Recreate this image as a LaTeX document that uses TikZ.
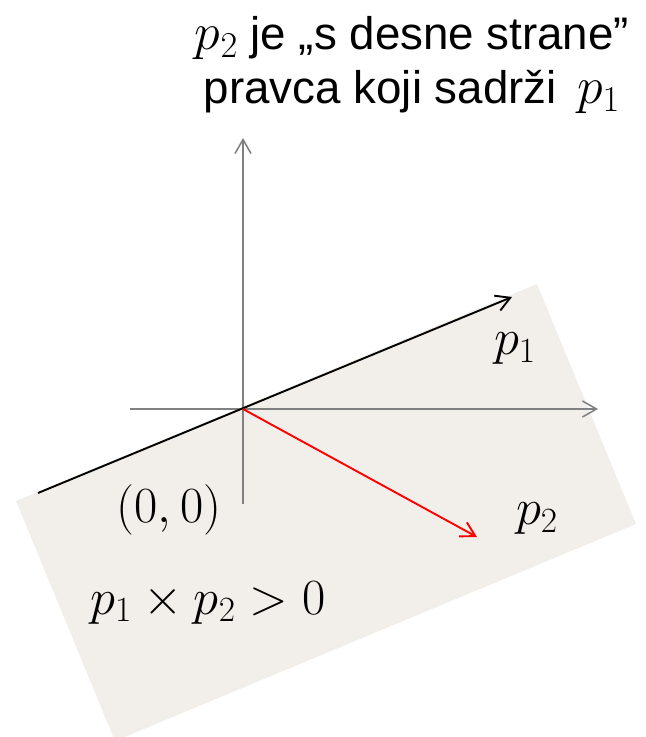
\RequirePackage{fix-cm}
\documentclass[tikz,border=0pt]{standalone}
\usepackage{amsmath}
\usepackage{fontspec}
\newfontfamily\titlefont{Liberation Sans}
\usetikzlibrary{arrows.meta}
\definecolor{halfplane}{HTML}{F2EFEA}
\definecolor{axisgray}{HTML}{808080}
\newcommand{\titlemath}[1]{{\fontsize{37}{38}\selectfont$#1$}}

\begin{document}
\begin{tikzpicture}[
	axis/.style={draw=axisgray, line width=1.1pt, -{Straight Barb[length=0.35cm,width=0.4cm]}},
	vec/.style={line width=1.35pt, -{Straight Barb[length=0.35cm,width=0.4cm]}},
	lbl/.style={font=\fontsize{36}{40}\selectfont, inner sep=0pt}]
			\clip (-6.075,-8.2) rectangle (10.075,10.225);
			% half-plane right of p1
			\fill[halfplane] (-5.675,-2.3) -- (7.35,3.125) -- (9.825,-2.875) -- (-3.2,-8.3) -- cycle;
			% axes
			\coordinate (O) at (0,0);
			\coordinate (xl) at (-2.825,0);
			\coordinate (xr) at (8.875,0);
			\coordinate (yb) at (0,-2.375);
			\coordinate (yt) at (0,6.775);
			\draw[axis] (xl) -- (xr);
			\draw[axis] (yb) -- (yt);
			% vectors
			\coordinate (p1s) at (-5.125,-2.1);
			\coordinate (p1e) at (6.725,2.8);
			\coordinate (p2e) at (5.85,-3.2);
			\draw[vec] (p1s) -- (p1e);
			\draw[vec, red] (O) -- (p2e);
			% labels
			\node[lbl] (lp1) at (6.8,1.5) {$p_1$};
			\node[lbl] (lp2) at (7.35,-2.75) {$p_2$};
			\node[lbl] (lorig) at (-1.85,-2.525) {$(0,0)$};
			\node[lbl] (lcross) at (-0.875,-4.85) {$p_1\times p_2>0$};
			\node[lbl, align=center, font=\titlefont\fontsize{32.5}{38}\selectfont] (title) at (4.225,8.6)
				{\titlemath{p_2} je „s desne strane”\\pravca koji sadrži \,\titlemath{p_1}};
		\end{tikzpicture}
\end{document}
